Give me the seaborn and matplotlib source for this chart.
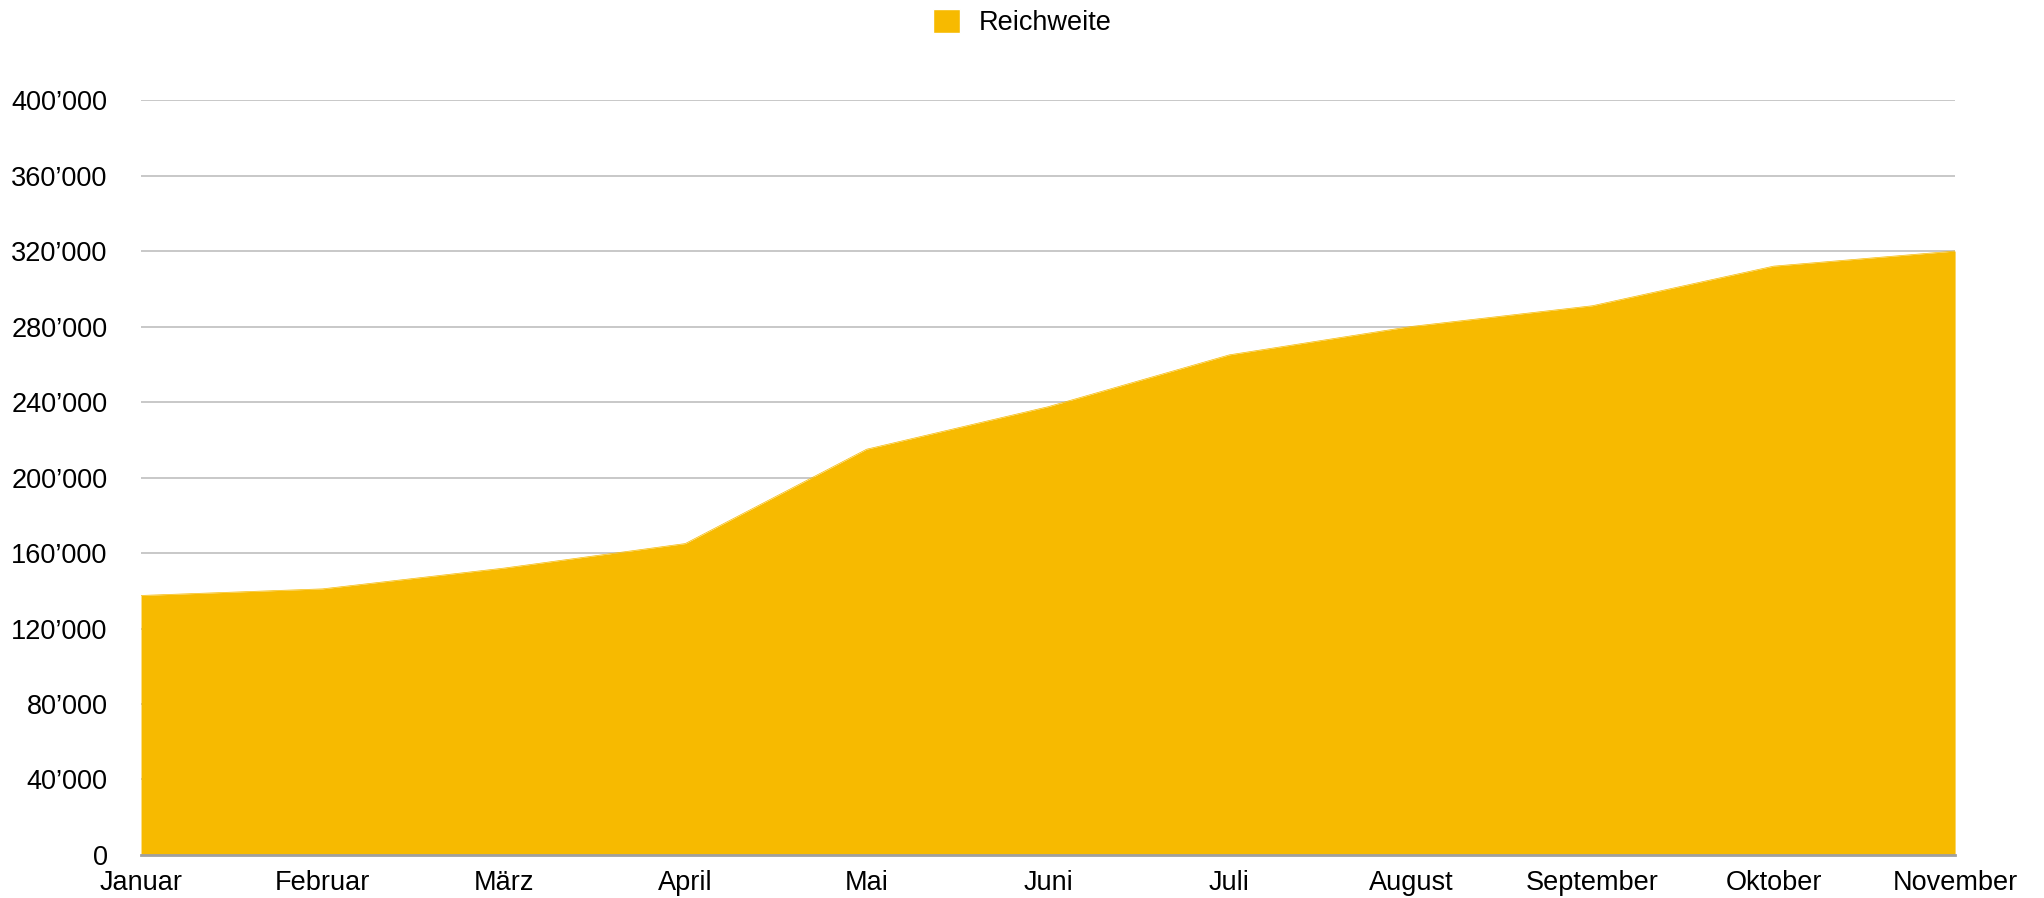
import numpy as np
import pandas as pd
import matplotlib
matplotlib.use("Agg")
import matplotlib.pyplot as plt
import matplotlib.ticker as mticker
from matplotlib.patches import Patch
import seaborn as sns

months = ["Januar", "Februar", "März", "April", "Mai", "Juni", "Juli",
          "August", "September", "Oktober", "November"]
reichweite = [137500, 141000, 152000, 165000, 215000, 237500, 265000,
              280000, 291000, 312000, 320000]
yticks = [0, 40000, 80000, 120000, 160000, 200000, 240000, 280000,
          320000, 360000, 400000]

df = pd.DataFrame({"monat": months, "reichweite": reichweite})
df["pos"] = range(len(df))

sns.set_style("white")
plt.rcParams["font.family"] = ["Liberation Sans", "DejaVu Sans"]
plt.rcParams["text.color"] = "black"

colour = "#F7BA00"

fig = plt.figure(figsize=(20.44, 8.98), dpi=100)
ax = fig.add_axes([0.069, 0.0479, 0.8875, 0.8407])

sns.lineplot(data=df, x="pos", y="reichweite", ax=ax, color=colour, linewidth=0.5)
ax.fill_between(df["pos"], df["reichweite"], color=colour, linewidth=0, zorder=2)

ax.set_xlim(0, len(months) - 1)
ax.set_ylim(0, 400000)
ax.set_xticks(df["pos"])
ax.set_xticklabels(months)
ax.set_yticks(yticks)
ax.yaxis.set_major_formatter(
    mticker.FuncFormatter(lambda v, p: f"{int(v):,}".replace(",", "\u2019")))
ax.tick_params(axis="both", length=0, labelsize=19.5, colors="black")
ax.tick_params(axis="y", pad=24)
ax.tick_params(axis="x", pad=11)

ax.grid(axis="y", color="#c8c8c8", linewidth=1.4, zorder=0)
ax.set_axisbelow(True)
for side in ["top", "right", "left"]:
    ax.spines[side].set_visible(False)
ax.spines["bottom"].set_color("#a0a0a0")
ax.spines["bottom"].set_linewidth(2)
ax.spines["bottom"].set_zorder(3)
ax.set_xlabel("")
ax.set_ylabel("")

fig.legend(handles=[Patch(facecolor=colour, label="Reichweite")],
           loc="center", bbox_to_anchor=(0.5, 0.975), frameon=False,
           fontsize=19.5, handlelength=1.0, handleheight=1.0, handletextpad=0.7)

fig.savefig("out.png", dpi=100)
